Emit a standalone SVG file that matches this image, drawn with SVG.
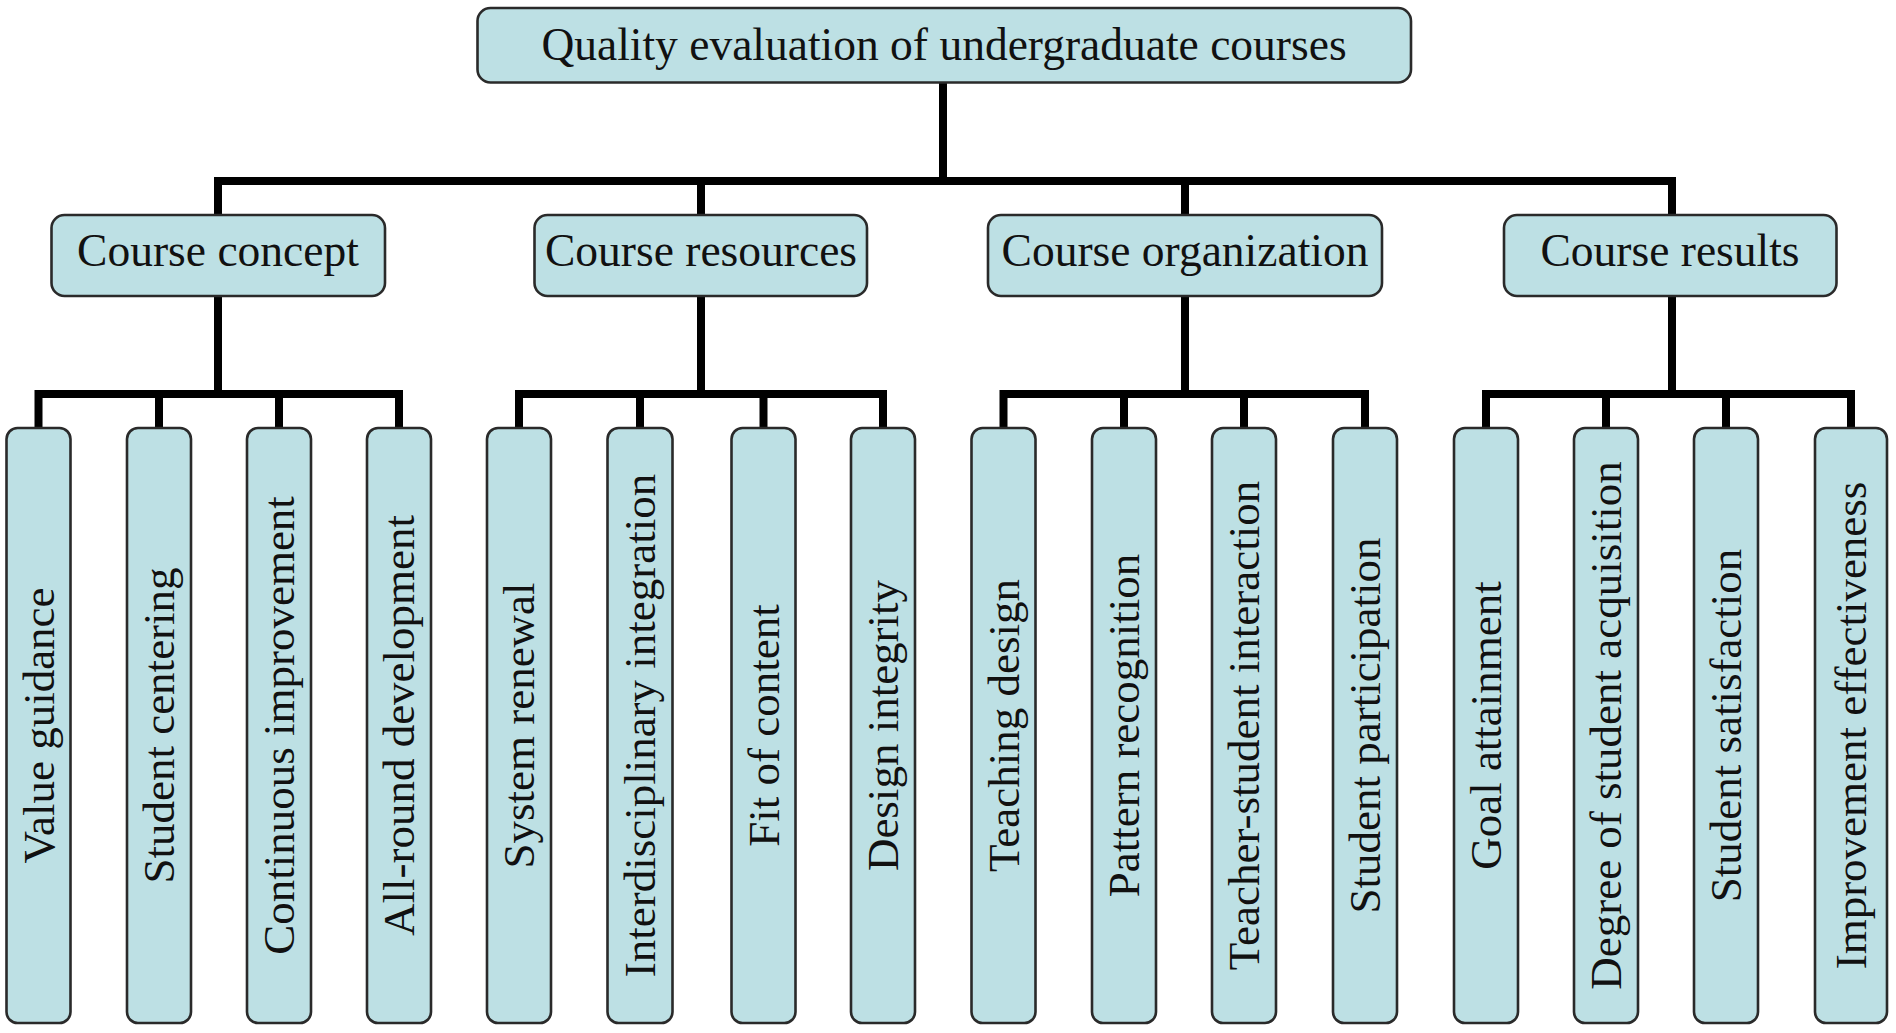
<svg xmlns="http://www.w3.org/2000/svg" width="1896" height="1033" viewBox="0 0 1896 1033">
<style>
.box{fill:#bde0e4;stroke:#2a2a2a;stroke-width:2.6}
.t{font-family:"Liberation Serif","Times New Roman",serif;fill:#111;text-anchor:middle}
.h{font-size:45.5px}
.l{font-size:45px}
.c{fill:none;stroke:#000;stroke-width:8;stroke-linejoin:miter;stroke-linecap:butt}
</style>
<rect width="1896" height="1033" fill="#fff"/>
<g id="connectors" class="c">
<path d="M943,82 V181"/>
<path d="M218,215 V181 H1672 V215"/>
<path d="M701,181 V215"/>
<path d="M1185,181 V215"/>
<path d="M218,296 V394"/>
<path d="M38.5,428 V394 H399 V428"/>
<path d="M159,394 V428"/>
<path d="M279,394 V428"/>
<path d="M701,296 V394"/>
<path d="M519,428 V394 H883 V428"/>
<path d="M640,394 V428"/>
<path d="M763.5,394 V428"/>
<path d="M1185,296 V394"/>
<path d="M1003.5,428 V394 H1365 V428"/>
<path d="M1124,394 V428"/>
<path d="M1244,394 V428"/>
<path d="M1672,296 V394"/>
<path d="M1486,428 V394 H1851 V428"/>
<path d="M1606,394 V428"/>
<path d="M1726,394 V428"/>
</g>
<g id="root"><rect class="box" x="477.5" y="8" width="933.5" height="74.5" rx="13"/><text class="t h" x="944" y="59.5">Quality evaluation of undergraduate courses</text></g>
<g id="course-concept"><rect class="box" x="51.5" y="215" width="333.5" height="81" rx="13"/><text class="t h" x="218" y="266">Course concept</text></g>
<g id="course-resources"><rect class="box" x="534.5" y="215" width="332.5" height="81" rx="13"/><text class="t h" x="701" y="266">Course resources</text></g>
<g id="course-organization"><rect class="box" x="988" y="215" width="394" height="81" rx="13"/><text class="t h" x="1185" y="266">Course organization</text></g>
<g id="course-results"><rect class="box" x="1504" y="215" width="332.5" height="81" rx="13"/><text class="t h" x="1670" y="266">Course results</text></g>
<g id="leaf-1"><rect class="box" x="6.5" y="428" width="64" height="595" rx="11"/><text class="t l" transform="translate(53.5,725.5) rotate(-90)">Value guidance</text></g>
<g id="leaf-2"><rect class="box" x="127" y="428" width="64" height="595" rx="11"/><text class="t l" transform="translate(174,725.5) rotate(-90)">Student centering</text></g>
<g id="leaf-3"><rect class="box" x="247" y="428" width="64" height="595" rx="11"/><text class="t l" transform="translate(294,725.5) rotate(-90)">Continuous improvement</text></g>
<g id="leaf-4"><rect class="box" x="367" y="428" width="64" height="595" rx="11"/><text class="t l" transform="translate(414,725.5) rotate(-90)">All-round development</text></g>
<g id="leaf-5"><rect class="box" x="487" y="428" width="64" height="595" rx="11"/><text class="t l" transform="translate(534,725.5) rotate(-90)">System renewal</text></g>
<g id="leaf-6"><rect class="box" x="607.5" y="428" width="65" height="595" rx="11"/><text class="t l" transform="translate(655,725.5) rotate(-90)">Interdisciplinary integration</text></g>
<g id="leaf-7"><rect class="box" x="731.5" y="428" width="64" height="595" rx="11"/><text class="t l" transform="translate(778.5,725.5) rotate(-90)">Fit of content</text></g>
<g id="leaf-8"><rect class="box" x="851" y="428" width="64" height="595" rx="11"/><text class="t l" transform="translate(898,725.5) rotate(-90)">Design integrity</text></g>
<g id="leaf-9"><rect class="box" x="971.5" y="428" width="64" height="595" rx="11"/><text class="t l" transform="translate(1018.5,725.5) rotate(-90)">Teaching design</text></g>
<g id="leaf-10"><rect class="box" x="1092" y="428" width="64" height="595" rx="11"/><text class="t l" transform="translate(1139,725.5) rotate(-90)">Pattern recognition</text></g>
<g id="leaf-11"><rect class="box" x="1212" y="428" width="64" height="595" rx="11"/><text class="t l" transform="translate(1259,725.5) rotate(-90)">Teacher-student interaction</text></g>
<g id="leaf-12"><rect class="box" x="1333" y="428" width="64" height="595" rx="11"/><text class="t l" transform="translate(1380,725.5) rotate(-90)">Student participation</text></g>
<g id="leaf-13"><rect class="box" x="1454" y="428" width="64" height="595" rx="11"/><text class="t l" transform="translate(1501,725.5) rotate(-90)">Goal attainment</text></g>
<g id="leaf-14"><rect class="box" x="1574" y="428" width="64" height="595" rx="11"/><text class="t l" transform="translate(1621,725.5) rotate(-90)">Degree of student acquisition</text></g>
<g id="leaf-15"><rect class="box" x="1694" y="428" width="64" height="595" rx="11"/><text class="t l" transform="translate(1741,725.5) rotate(-90)">Student satisfaction</text></g>
<g id="leaf-16"><rect class="box" x="1815" y="428" width="72" height="595" rx="11"/><text class="t l" transform="translate(1866,725.5) rotate(-90)">Improvement effectiveness</text></g>
</svg>
